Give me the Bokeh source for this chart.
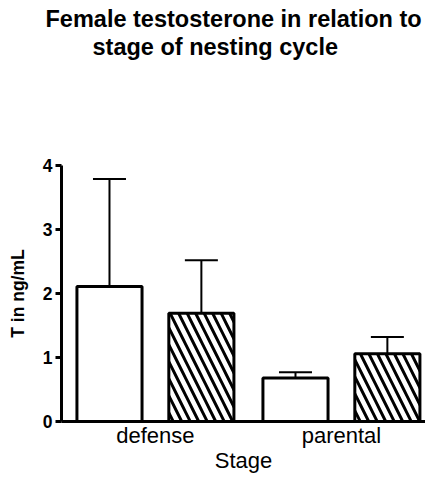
from bokeh.plotting import figure
from bokeh.models import (ColumnDataSource, Range1d, FixedTicker, Whisker, TeeHead, Title)
from bokeh.transform import dodge
from bokeh.embed import file_html
from bokeh.resources import INLINE

# ---- data ----
categories = ["defense", "parental"]
series_a_mean = [2.11, 0.68]
series_a_upper = [3.79, 0.77]
series_b_mean = [1.69, 1.06]
series_b_upper = [2.52, 1.32]
y_ticks = [0, 1, 2, 3, 4]
title_lines = ["Female testosterone in relation to", "stage of nesting cycle"]

x_pos = [i + 0.5 for i in range(len(categories))]
src_a = ColumnDataSource(dict(x=x_pos, mean=series_a_mean, upper=series_a_upper))
src_b = ColumnDataSource(dict(x=x_pos, mean=series_b_mean, upper=series_b_upper))

FONT = "Liberation Sans"

p = figure(width=425, height=477, x_range=Range1d(-0.005, 1.952),
           y_range=Range1d(0, 4), output_backend="svg", toolbar_location=None,
           min_border_left=61, min_border_right=0, min_border_top=165, min_border_bottom=56)

# outermost title line
p.title.text = title_lines[0]
p.title.align = "left"
p.title.offset = -16
p.title.text_font = FONT
p.title.text_font_size = "23.5px"
p.title.text_font_style = "bold"
p.title.text_color = "black"
p.title.standoff = 0
# spacer between frame and title block (closest to frame)
p.add_layout(Title(text=" ", text_font_size="1px", standoff=103), "above")
# second title line
p.add_layout(Title(text=title_lines[1], align="left", offset=31, text_font=FONT,
                   text_font_size="23.5px", text_font_style="bold", text_color="black",
                   standoff=0), "above")

off = 0.247
w = 0.35

for src, d in ((src_a, -off), (src_b, off)):
    wk = Whisker(source=src, base=dodge("x", d), upper="upper", lower="mean",
                 line_width=2, line_color="black",
                 upper_head=TeeHead(size=33, line_width=2, line_color="black"),
                 lower_head=None)
    p.add_layout(wk)

p.vbar(x=dodge("x", -off), top="mean", bottom=0, width=w, source=src_a,
       fill_color="white", line_color="black", line_width=3)
p.vbar(x=dodge("x", off), top="mean", bottom=0, width=w, source=src_b,
       fill_color="white", line_color="black", line_width=3,
       hatch_pattern="left_diagonal_line", hatch_color="black", hatch_weight=3, hatch_scale=17)

p.xgrid.visible = False
p.ygrid.visible = False
p.outline_line_color = None

p.yaxis.ticker = FixedTicker(ticks=y_ticks)
p.yaxis.axis_label = "T in ng/mL"
p.yaxis.axis_label_text_font = FONT
p.yaxis.axis_label_text_font_style = "bold"
p.yaxis.axis_label_text_font_size = "17.5px"
p.yaxis.axis_label_text_color = "black"
p.yaxis.axis_label_standoff = 12
p.yaxis.major_label_text_font = FONT
p.yaxis.major_label_text_font_style = "bold"
p.yaxis.major_label_text_font_size = "17.5px"
p.yaxis.major_label_text_color = "black"
p.yaxis.major_label_standoff = 3
p.yaxis.axis_line_width = 3
p.yaxis.major_tick_line_width = 3
p.yaxis.major_tick_out = 6
p.yaxis.major_tick_in = 0
p.yaxis.minor_tick_line_color = None

p.xaxis.ticker = FixedTicker(ticks=x_pos)
p.xaxis.major_label_overrides = {x: c for x, c in zip(x_pos, categories)}
p.xaxis.axis_label = "Stage"
p.xaxis.axis_label_text_font = FONT
p.xaxis.axis_label_text_font_style = "normal"
p.xaxis.axis_label_text_font_size = "22px"
p.xaxis.axis_label_text_color = "black"
p.xaxis.axis_label_standoff = -3
p.xaxis.major_label_text_font = FONT
p.xaxis.major_label_text_font_size = "22px"
p.xaxis.major_label_text_color = "black"
p.xaxis.major_label_standoff = 1
p.xaxis.major_tick_out = 0
p.xaxis.major_tick_in = 0
p.xaxis.axis_line_width = 3
p.xaxis.major_tick_line_color = None
p.xaxis.minor_tick_line_color = None

open("out.html", "w").write(file_html(p, INLINE))
